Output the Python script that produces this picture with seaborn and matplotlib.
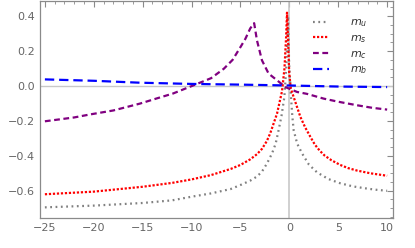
import numpy as np
import pandas as pd
import matplotlib
matplotlib.use("Agg")
import matplotlib.pyplot as plt
import seaborn as sns
from matplotlib.ticker import MultipleLocator

# values
mu_x = [-25, -20, -15, -12, -10, -8, -6, -5, -4, -3.3, -2.8, -2.3, -1.77, -1.4, -1.1, -0.8, -0.51, -0.3, -0.13,
        -0.02, 0.17, 0.3, 0.44, 0.8, 1.3, 2.0, 2.84, 4, 5.2, 6.5, 8, 9, 10]
mu_y = [-0.695, -0.685, -0.670, -0.655, -0.634, -0.615, -0.59, -0.567, -0.542, -0.518, -0.49, -0.445, -0.386,
        -0.33, -0.253, -0.17, -0.063, 0.12, 0.40, 0.12, -0.063, -0.17, -0.253, -0.33, -0.386, -0.45, -0.495,
        -0.533, -0.557, -0.575, -0.588, -0.595, -0.60]

ms_x = [-25, -20, -15, -12, -10, -8, -6, -5, -4, -3.3, -2.8, -2.3, -1.95, -1.26, -0.75, -0.5, -0.34, -0.24,
        -0.12, -0.02, 0.15, 0.44, 1.13, 1.6, 2.15, 2.6, 3.1, 3.6, 4.3, 5.2, 6, 6.9, 8.3, 10]
ms_y = [-0.62, -0.605, -0.577, -0.555, -0.535, -0.51, -0.475, -0.452, -0.42, -0.39, -0.36, -0.315, -0.27,
        -0.158, -0.03, 0.1, 0.27, 0.42, 0.25, 0.08, -0.015, -0.063, -0.177, -0.235, -0.291, -0.335, -0.37,
        -0.398, -0.425, -0.452, -0.47, -0.484, -0.5, -0.514]

mc_x = [-25, -22, -20.4, -18, -15.3, -13.5, -11.9, -9.8, -8, -6.7, -5.8, -5, -4.5, -4.0, -3.6,
        -3.31, -2.8, -2.12, -1.26, -0.41, 0.79, 1.81, 3.5, 5, 6.9, 8.5, 10]
mc_y = [-0.202, -0.18, -0.163, -0.14, -0.101, -0.07, -0.043, 0.004, 0.045, 0.099, 0.15, 0.223, 0.27, 0.33, 0.36,
        0.261, 0.147, 0.071, 0.033, -0.006, -0.034, -0.045, -0.072, -0.09, -0.11, -0.125, -0.135]

mb_x = [-25, -20, -15.3, -10, -5, 0, 5, 10]
mb_y = [0.038, 0.03, 0.019, 0.012, 0.008, 0.003, -0.003, -0.006]

labels = ["$m_u$", "$m_s$", "$m_c$", "$m_b$"]
colors = ["#808080", "#ff0000", "#800080", "#0000ff"]
styles = [(0, (0.8, 1.6)), (0, (1.0, 0.8)), (0, (2.6, 1.6)), (0, (4.2, 2.2))]

sns.set_theme(style="white")
plt.rcParams["font.family"] = ["DejaVu Sans"]

fig = plt.figure(figsize=(4.15, 2.48), dpi=100)
ax = fig.add_axes([40 / 415, 30 / 248, 353 / 415, 217 / 248])

ax.axhline(0, color="#c8c8c8", lw=1, zorder=1)
ax.axvline(0, color="#c8c8c8", lw=1.2, zorder=1)

series = [(mu_x, mu_y), (ms_x, ms_y), (mc_x, mc_y), (mb_x, mb_y)]
for (xs, ys), lab, c, ls in zip(series, labels, colors, styles):
    sns.lineplot(x=xs, y=ys, ax=ax, color=c, lw=1.6, label=lab, zorder=3)
    ax.lines[-1].set_linestyle(ls)

ax.set_xlim(-25.5, 10.6)
ax.set_ylim(-0.756, 0.487)

ax.xaxis.set_major_locator(MultipleLocator(5))
ax.xaxis.set_minor_locator(MultipleLocator(1))
ax.yaxis.set_major_locator(MultipleLocator(0.2))
ax.yaxis.set_minor_locator(MultipleLocator(0.05))
ax.yaxis.set_major_formatter(plt.FuncFormatter(lambda v, p: f"{v:.1f}".replace("-", "\u2212")))
ax.xaxis.set_major_formatter(plt.FuncFormatter(lambda v, p: f"{v:.0f}".replace("-", "\u2212")))

ax.tick_params(which="both", direction="in", top=True, right=True, colors="#8a8a8a",
               labelcolor="#666666", labelsize=8)
ax.tick_params(which="major", length=4, width=0.8)
ax.tick_params(which="minor", length=2, width=0.6)
for sp in ax.spines.values():
    sp.set_color("#8a8a8a")
    sp.set_linewidth(0.9)

leg = ax.legend(loc="upper left", bbox_to_anchor=(0.745, 0.97), frameon=False, fontsize=8,
                handlelength=1.4, handletextpad=1.9, labelspacing=0.35)
for t in leg.get_texts():
    t.set_color("#333333")

fig.savefig("out.png", dpi=100)
